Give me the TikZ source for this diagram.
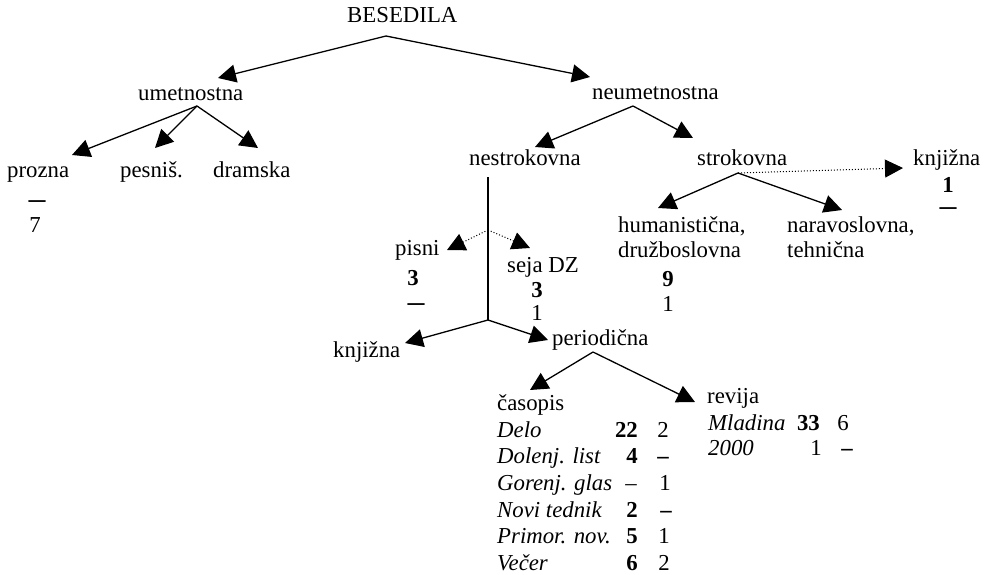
\documentclass[tikz,border=0pt]{standalone}
\usepackage{fontspec}
\setmainfont{Liberation Serif}
\usetikzlibrary{arrows.meta}
\begin{document}
\fontsize{22.8}{27}\selectfont
\begin{tikzpicture}[x=1pt,y=-1pt,
  lbl/.style={inner sep=0pt, anchor=base west},
  ctr/.style={inner sep=0pt, anchor=base},
  rgt/.style={inner sep=0pt, anchor=base east},
  bnum/.style={font=\bfseries},
  inam/.style={font=\itshape},
  arr/.style={line width=1.3pt, -{Triangle[length=18pt,width=18pt]}},
  dotarr/.style={line width=1pt, dotted, -{Triangle[length=18pt,width=18pt]}},
  ln/.style={line width=1.3pt},
  rulefont/.style={font=\fontsize{17}{17}\selectfont\bfseries, transform shape, yscale=1.5}]
\useasboundingbox (0,0) rectangle (988,575);

% ---- labels ----
\node[lbl] (bes) at (347,23) {BESEDILA};
\node[lbl] (umet) at (138,101) {umetnostna};
\node[lbl] (neum) at (592,100) {neumetnostna};
\node[lbl] (prozna) at (7,178) {prozna};
\node[lbl] (pesnis) at (120,178) {pesniš.};
\node[lbl] (dramska) at (213,178) {dramska};
\node[ctr,rulefont] (proznaDash) at (37,207) {—};
\node[ctr] (proznaN) at (35,232) {7};

\node[lbl] (nestr) at (469,166) {nestrokovna};
\node[lbl] (strok) at (697,165) {strokovna};
\node[lbl] (knjR) at (913,165) {knjižna};
\node[ctr,bnum] (knjRN) at (948,193) {1};
\node[ctr,rulefont] (knjRDash) at (948,214) {—};

\node[lbl] (hum) at (618,232) {humanistična,};
\node[lbl] (druz) at (618,257) {družboslovna};
\node[ctr,bnum] (humN) at (668,286) {9};
\node[ctr] (humM) at (668,311) {1};
\node[lbl] (nar) at (787,232) {naravoslovna,};
\node[lbl] (teh) at (787,257) {tehnična};

\node[lbl] (pisni) at (395,255) {pisni};
\node[ctr,bnum] (pisniN) at (413,285) {3};
\node[ctr,rulefont] (pisniDash) at (416,310) {—};
\node[lbl] (seja) at (507,272) {seja DZ};
\node[ctr,bnum] (sejaN) at (537,297) {3};
\node[ctr] (sejaM) at (537,320) {1};

\node[lbl] (knjL) at (333,357) {knjižna};
\node[lbl] (period) at (552,345) {periodična};

\node[lbl] (casopis) at (497,410) {časopis};
\node[lbl,inam] (delo) at (497,437) {Delo};
\node[rgt,bnum] (deloN) at (638,437) {22};
\node[ctr] (deloM) at (663,437) {2};
\node[lbl,inam] (dolenj) at (497,463) {Dolenj. list};
\node[rgt,bnum] (dolenjN) at (638,463) {4};
\node[ctr,bnum] (dolenjM) at (663,463) {–};
\node[lbl,inam] (gorenj) at (497,490) {Gorenj. glas};
\node[rgt] (gorenjN) at (637,490) {–};
\node[ctr] (gorenjM) at (665,490) {1};
\node[lbl,inam] (novi) at (497,517) {Novi tednik};
\node[rgt,bnum] (noviN) at (638,517) {2};
\node[ctr,bnum] (noviM) at (666,517) {–};
\node[lbl,inam] (primor) at (497,543) {Primor. nov.};
\node[rgt,bnum] (primorN) at (638,543) {5};
\node[ctr] (primorM) at (664,543) {1};
\node[lbl,inam] (vecer) at (497,570) {Večer};
\node[rgt,bnum] (vecerN) at (638,570) {6};
\node[ctr] (vecerM) at (664,570) {2};

\node[lbl] (revija) at (707,403) {revija};
\node[lbl,inam] (mladina) at (708,430) {Mladina};
\node[rgt,bnum] (mladinaN) at (820,430) {33};
\node[ctr] (mladinaM) at (843,430) {6};
\node[lbl,inam] (y2000) at (708,455) {2000};
\node[rgt] (y2000N) at (822,455) {1};
\node[ctr,bnum] (y2000M) at (847,455) {–};

% ---- branch points and arrow ends ----
\coordinate (besA) at (386,36);
\coordinate (umetT) at (218,78);
\coordinate (neumT) at (590,77);
\coordinate (umetA) at (197,106);
\coordinate (proznaT) at (72,155);
\coordinate (pesnisT) at (155,148);
\coordinate (dramskaT) at (258,148);
\coordinate (neumA) at (633,106);
\coordinate (nestrT) at (535,147);
\coordinate (strokT) at (693,138);
\coordinate (strokA) at (738,173);
\coordinate (humT) at (658,208);
\coordinate (narT) at (842,210);
\coordinate (knjRT) at (903,168);
\coordinate (nestrTop) at (488,177);
\coordinate (nestrMid) at (488,230);
\coordinate (nestrFork) at (488,320);
\coordinate (pisniT) at (447,250);
\coordinate (sejaT) at (530,248);
\coordinate (knjLT) at (405,343);
\coordinate (periodT) at (548,340);
\coordinate (periodA) at (593,352);
\coordinate (casopisT) at (530,390);
\coordinate (revijaT) at (695,402);

% ---- connectors ----
\draw[arr] (besA) -- (umetT);
\draw[arr] (besA) -- (neumT);
\draw[arr] (umetA) -- (proznaT);
\draw[arr] (umetA) -- (pesnisT);
\draw[arr] (umetA) -- (dramskaT);
\draw[arr] (neumA) -- (nestrT);
\draw[arr] (neumA) -- (strokT);
\draw[arr] (strokA) -- (humT);
\draw[arr] (strokA) -- (narT);
\draw[dotarr] (strokA) -- (knjRT);
\draw[ln] (nestrTop) -- (nestrFork);
\draw[dotarr] (nestrMid) -- (pisniT);
\draw[dotarr] (nestrMid) -- (sejaT);
\draw[arr] (nestrFork) -- (knjLT);
\draw[arr] (nestrFork) -- (periodT);
\draw[arr] (periodA) -- (casopisT);
\draw[arr] (periodA) -- (revijaT);
\end{tikzpicture}
\end{document}
